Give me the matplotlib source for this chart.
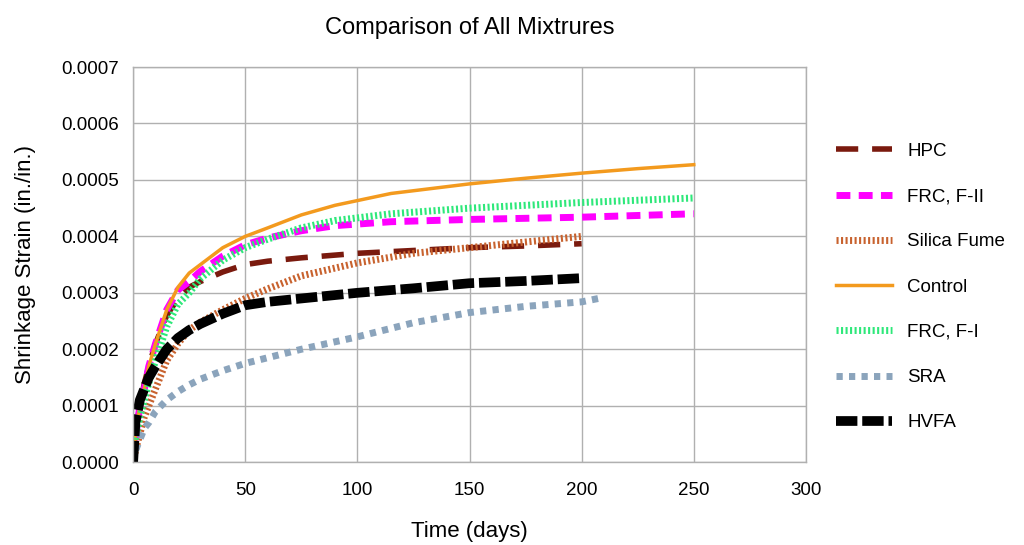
import matplotlib.pyplot as plt
from matplotlib.ticker import FormatStrFormatter

plt.rcParams['font.family'] = ['Liberation Sans', 'DejaVu Sans']

# time points (days)
t_long = [0, 1, 3, 5, 7, 10, 15, 20, 25, 30, 40, 50, 60, 75, 90, 115, 150, 175, 200, 225, 250]
t_200 = [0, 1, 3, 5, 7, 10, 15, 20, 25, 30, 40, 50, 60, 75, 100, 125, 150, 175, 200]
t_210 = [0, 1, 3, 5, 7, 10, 15, 20, 25, 30, 40, 50, 60, 75, 100, 125, 150, 175, 200, 210]

hpc = [0, 0.00005, 0.0001, 0.00014, 0.00017, 0.00021, 0.00026, 0.00029, 0.00031, 0.00032,
       0.000337, 0.00035, 0.000356, 0.000362, 0.00037, 0.000375, 0.00038, 0.000383, 0.000387]
frc_f2 = [0, 0.00004, 0.0001, 0.00013, 0.00017, 0.00021, 0.00027, 0.000305, 0.00032, 0.000338,
          0.000365, 0.000385, 0.000397, 0.00041, 0.000419, 0.000426, 0.00043, 0.000432,
          0.000434, 0.000437, 0.00044]
silica = [0, 0.00002, 0.00005, 0.00008, 0.0001, 0.00013, 0.00018, 0.00021, 0.000234, 0.000248,
          0.00027, 0.00029, 0.000307, 0.00033, 0.000353, 0.00037, 0.00038, 0.00039, 0.0004]
control = [0, 0.00005, 0.0001, 0.00013, 0.00017, 0.00021, 0.00027, 0.00031, 0.000335, 0.00035,
           0.00038, 0.0004, 0.000415, 0.000438, 0.000455, 0.000476, 0.000493, 0.000503,
           0.000512, 0.00052, 0.000527]
frc_f1 = [0, 0.00004, 0.00008, 0.00011, 0.00014, 0.00018, 0.00024, 0.00028, 0.0003, 0.000325,
          0.000358, 0.00038, 0.000395, 0.000415, 0.000428, 0.00044, 0.00045, 0.000455, 0.00046,
          0.000464, 0.000468]
sra = [0, 0.00002, 0.00004, 0.00006, 0.00007, 0.00009, 0.00011, 0.000125, 0.000137, 0.000147,
       0.000162, 0.000175, 0.000185, 0.0002, 0.000222, 0.000247, 0.000265, 0.000276, 0.000284,
       0.000292]
hvfa = [0, 0.00007, 0.00011, 0.00013, 0.00015, 0.00017, 0.0002, 0.00022, 0.000234, 0.000245,
        0.000263, 0.000278, 0.000284, 0.00029, 0.0003, 0.000308, 0.000317, 0.000321, 0.000326]

fig = plt.figure(figsize=(10.24, 5.45), dpi=100)
ax = fig.add_axes([0.130, 0.152, 0.657, 0.725])

ax.plot(t_200, hpc, color='#7a1a0e', lw=4, dashes=(4, 2.5), label='HPC')
ax.plot(t_long, frc_f2, color='#ff00ff', lw=5, dashes=(2, 1.2), label='FRC, F-II')
ax.plot(t_200, silica, color='#c8622e', lw=5, dashes=(0.3, 0.35), label='Silica Fume')
ax.plot(t_long, control, color='#f39a1e', lw=2.5, label='Control')
ax.plot(t_long, frc_f1, color='#2ee87a', lw=5, dashes=(0.3, 0.35), label='FRC, F-I')
ax.plot(t_210, sra, color='#8ba4bc', lw=5, dashes=(0.9, 0.9), label='SRA')
ax.plot(t_200, hvfa, color='black', lw=7, dashes=(2.2, 0.5), label='HVFA')

ax.set_xlim(0, 300)
ax.set_ylim(0, 0.0007)
ax.set_xticks(range(0, 301, 50))
ax.set_yticks([i * 0.0001 for i in range(8)])
ax.yaxis.set_major_formatter(FormatStrFormatter('%.4f'))
ax.grid(True, color='#b0b0b0', lw=1)
ax.tick_params(labelsize=13.5, length=0)
ax.tick_params(axis='x', pad=14)
ax.tick_params(axis='y', pad=10)
for s in ax.spines.values():
    s.set_color('#b0b0b0')
    s.set_linewidth(1)

ax.set_title('Comparison of All Mixtrures', fontsize=17, pad=24)
ax.set_xlabel('Time (days)', fontsize=16, labelpad=16)
ax.set_ylabel('Shrinkage Strain (in./in.)', fontsize=16, labelpad=18)

ax.legend(loc='center left', bbox_to_anchor=(1.02, 0.443), frameon=False, fontsize=13.5,
          handlelength=3.0, labelspacing=1.5)

fig.savefig('out.png', dpi=100)
